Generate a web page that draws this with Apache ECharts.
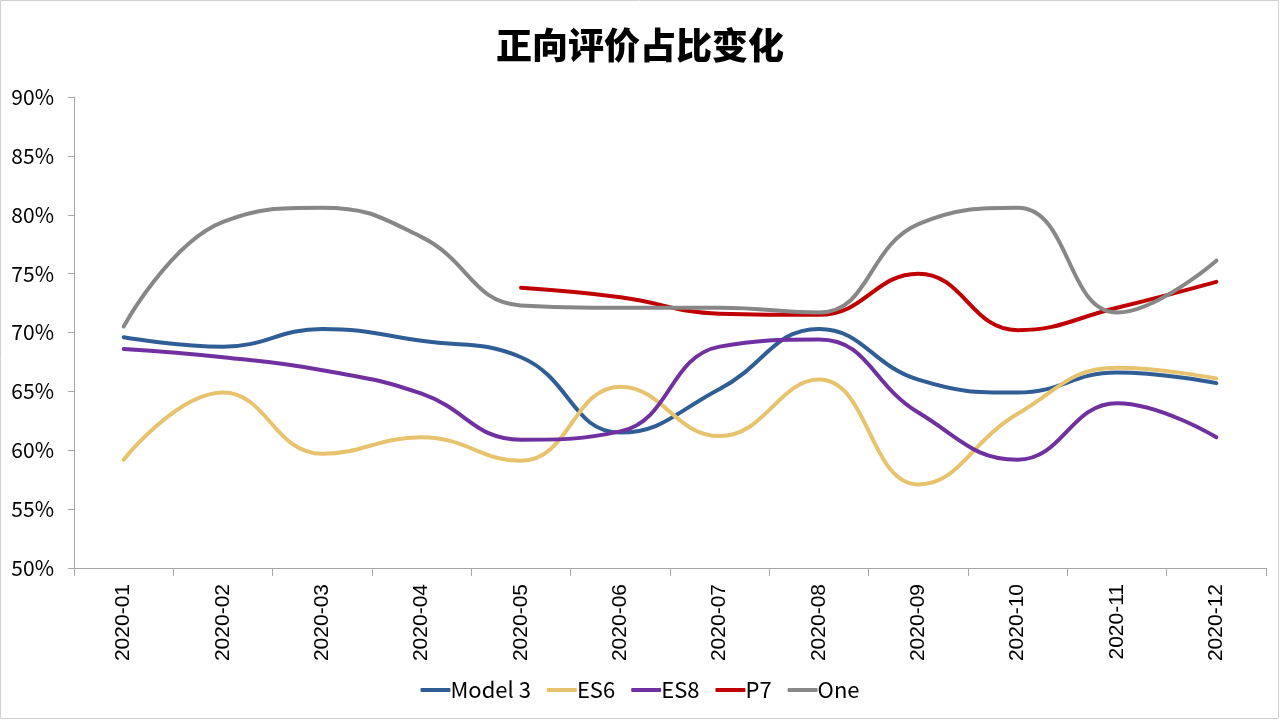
<!DOCTYPE html>
<html><head><meta charset="utf-8">
<script src="https://cdn.jsdelivr.net/npm/echarts@6/dist/echarts.min.js"></script>
<style>html,body{margin:0;padding:0;background:#fff}#c{width:1280px;height:720px}</style>
</head><body><div id="c"></div>
<script>
const categories = ['2020-01','2020-02','2020-03','2020-04','2020-05','2020-06','2020-07','2020-08','2020-09','2020-10','2020-11','2020-12'];
const model3 = [69.6, 68.8, 70.3, 69.3, 67.9, 61.5, 65.2, 70.3, 66.0, 64.9, 66.6, 65.7];
const es6 = [59.2, 64.9, 59.7, 61.1, 59.1, 65.4, 61.2, 66.0, 57.1, 63.1, 67.0, 66.1];
const es8 = [68.6, 67.9, 66.8, 64.8, 60.9, 61.6, 68.8, 69.4, 63.2, 59.2, 64.0, 61.1];
const p7 = [null, null, null, null, 73.8, 73.0, 71.6, 71.5, 75.0, 70.2, 72.1, 74.3];
const one = [70.5, 79.4, 80.6, 78.1, 72.3, 72.1, 72.1, 71.7, 79.2, 80.6, 71.7, 76.1];
const seriesNames = ['Model 3','ES6','ES8','P7','One'];
const seriesColors = ['#2F5D95','#E8C36E','#7030A0','#C00000','#878787'];
const seriesData = [model3, es6, es8, p7, one];
const font = '"Noto Sans CJK SC", "Noto Sans", sans-serif';
const chart = echarts.init(document.getElementById('c'));
chart.setOption({
  animation:false,
  title:{text:'正向评价占比变化',left:'center',top:22,textStyle:{fontFamily:font,fontSize:36,fontWeight:900,color:'#000'}},
  graphic:[{type:'rect',shape:{x:0.5,y:0.5,width:1278,height:718},style:{fill:'none',stroke:'#D0D0D0',lineWidth:1},silent:true}],
  grid:{left:74,right:14,top:97,bottom:152},
  legend:{bottom:14,left:'center',itemWidth:30,itemHeight:4,itemGap:16,
    icon:'roundRect',
    textStyle:{fontFamily:font,fontSize:22,color:'#000',padding:[0,0,0,-5]},
    data:seriesNames},
  xAxis:{type:'category',data:categories,boundaryGap:true,
    axisLine:{lineStyle:{color:'#A6A6A6',width:1}},
    axisTick:{show:true,length:8,lineStyle:{color:'#A6A6A6'}},
    axisLabel:{rotate:90,fontFamily:'"Liberation Sans", Arial, sans-serif',fontSize:21,color:'#000',margin:16}},
  yAxis:{type:'value',min:50,max:90,interval:5,
    axisLine:{show:true,lineStyle:{color:'#A6A6A6'}},
    axisTick:{show:true,length:6,lineStyle:{color:'#A6A6A6'}},
    splitLine:{show:false},
    axisLabel:{formatter:v=>v+'%',fontFamily:font,fontSize:21,color:'#000',margin:20}},
  series:seriesNames.map((n,i)=>({name:n,type:'line',data:seriesData[i],smooth:0.45,
    symbol:'none',connectNulls:false,
    lineStyle:{color:seriesColors[i],width:4,cap:'round'},itemStyle:{color:seriesColors[i]}}))
});
</script></body></html>
